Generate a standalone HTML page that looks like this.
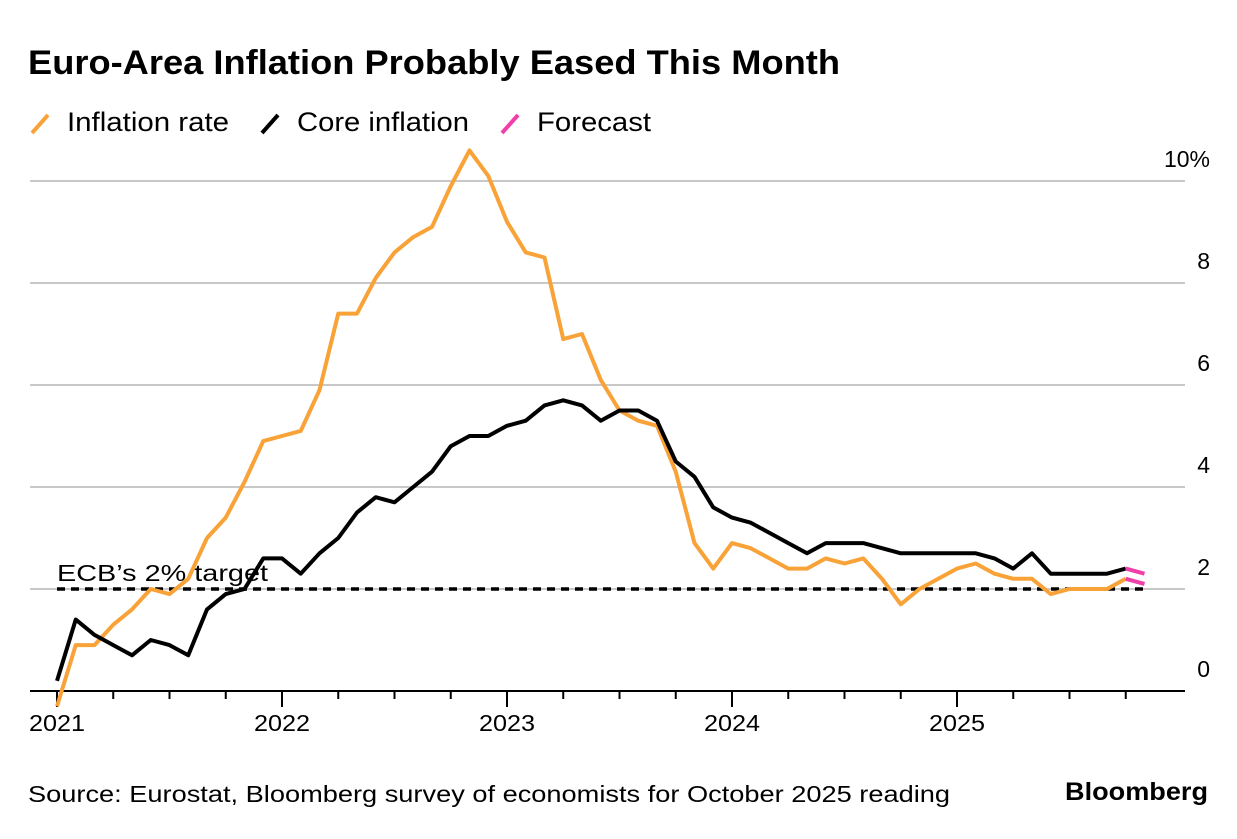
<!DOCTYPE html>
<html><head><meta charset="utf-8"><style>
body{margin:0;background:#fff;font-family:"Liberation Sans",sans-serif;}
svg text{font-family:"Liberation Sans",sans-serif;}
</style></head><body>
<svg id="c" width="1237" height="834">
<text x="28" y="74" font-size="34" font-weight="bold" fill="#000" textLength="812" lengthAdjust="spacingAndGlyphs">Euro-Area Inflation Probably Eased This Month</text>
<g>
<line x1="32" y1="133" x2="48" y2="115" stroke="#f8a237" stroke-width="4"/>
<text x="67" y="131" font-size="27" textLength="162" lengthAdjust="spacingAndGlyphs">Inflation rate</text>
<line x1="262" y1="133" x2="278" y2="115" stroke="#000" stroke-width="4"/>
<text x="297" y="131" font-size="27" textLength="172" lengthAdjust="spacingAndGlyphs">Core inflation</text>
<line x1="502" y1="133" x2="518" y2="115" stroke="#f03fa8" stroke-width="4"/>
<text x="537" y="131" font-size="27" textLength="114" lengthAdjust="spacingAndGlyphs">Forecast</text>
</g>
<g id="grid"></g><g id="marks"></g>
<text x="28" y="802" font-size="23" textLength="922" lengthAdjust="spacingAndGlyphs">Source: Eurostat, Bloomberg survey of economists for October 2025 reading</text>
<text x="1208" y="800" font-size="25" font-weight="bold" text-anchor="end" textLength="143" lengthAdjust="spacingAndGlyphs">Bloomberg</text>
</svg>
<script>
const yTicks=[0,2,4,6,8,10];
const yTickLabels=["0","2","4","6","8","10%"];
const years=["2021","2022","2023","2024","2025"];
const inflation=[-0.3,0.9,0.9,1.3,1.6,2.0,1.9,2.2,3.0,3.4,4.1,4.9,5.0,5.1,5.9,7.4,7.4,8.1,8.6,8.9,9.1,9.9,10.6,10.1,9.2,8.6,8.5,6.9,7.0,6.1,5.5,5.3,5.2,4.3,2.9,2.4,2.9,2.8,2.6,2.4,2.4,2.6,2.5,2.6,2.2,1.7,2.0,2.2,2.4,2.5,2.3,2.2,2.2,1.9,2.0,2.0,2.0,2.2];
const core=[0.2,1.4,1.1,0.9,0.7,1.0,0.9,0.7,1.6,1.9,2.0,2.6,2.6,2.3,2.7,3.0,3.5,3.8,3.7,4.0,4.3,4.8,5.0,5.0,5.2,5.3,5.6,5.7,5.6,5.3,5.5,5.5,5.3,4.5,4.2,3.6,3.4,3.3,3.1,2.9,2.7,2.9,2.9,2.9,2.8,2.7,2.7,2.7,2.7,2.7,2.6,2.4,2.7,2.3,2.3,2.3,2.3,2.4];
const forecastInflation=[2.2,2.1];
const forecastCore=[2.4,2.3];
const target=[2];
const NS="http://www.w3.org/2000/svg";
const y=v=>691-v*51;
const x=i=>57+i*18.75;
const grid=document.getElementById('grid'),marks=document.getElementById('marks');
function mk(tag,attrs,parent){const e=document.createElementNS(NS,tag);for(const k in attrs)e.setAttribute(k,attrs[k]);parent.appendChild(e);return e;}
yTicks.forEach((v,k)=>{
 if(v>0){const l=mk('line',{x1:30,x2:1185,y1:y(v),y2:y(v),stroke:'#c8c8c8','stroke-width':2},grid);
 
 }
 const t=mk('text',{x:1210,y:y(v)-14,'font-size':23,'text-anchor':'end'},grid);t.textContent=yTickLabels[k];
 
 
});
const ax=mk('line',{x1:30,x2:1185,y1:691,y2:691,stroke:'#000','stroke-width':2},grid);


for(let m=0;m<=57;m+=3){const big=m%12===0;const tk=mk('line',{x1:x(m),x2:x(m),y1:691,y2:big?707:699,stroke:'#000','stroke-width':2},grid);
 
 }
years.forEach((s,k)=>{const t=mk('text',{x:x(k*12),y:731,'font-size':23,'text-anchor':'middle',textLength:56,lengthAdjust:'spacingAndGlyphs'},grid);t.textContent=s;
 
 });
const tl=mk('line',{x1:57,x2:1147,y1:y(target[0]),y2:y(target[0]),stroke:'#000','stroke-width':3.5,'stroke-dasharray':'8,6'},marks);


const tt=mk('text',{x:57,y:y(target[0])-8,'font-size':23,textLength:211,lengthAdjust:'spacingAndGlyphs'},marks);tt.textContent="ECB\u2019s 2% target";


function line(arr,off,color,name){const p=arr.map((v,i)=>x(i+off)+','+y(v)).join(' ');
 const e=mk('polyline',{points:p,fill:'none',stroke:color,'stroke-width':4,'stroke-linejoin':'round'},marks);
 
 }
line(inflation,0,'#f8a237','inflation-line');
line(core,0,'#000','core-line');
line(forecastInflation,inflation.length-1,'#f03fa8','forecast-inflation');
line(forecastCore,core.length-1,'#f03fa8','forecast-core');
</script>
</body></html>
